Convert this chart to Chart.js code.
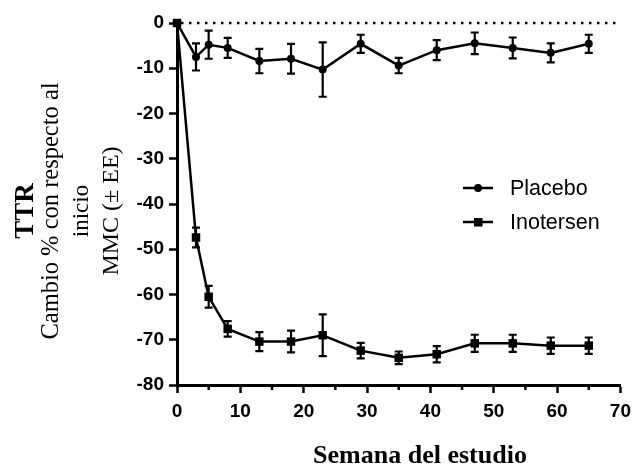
<!DOCTYPE html>
<html lang="es">
<head>
<meta charset="UTF-8">
<title>TTR - Cambio % con respecto al inicio</title>
<script src="https://cdn.jsdelivr.net/npm/chart.js"></script>
<style>
    body {
        margin: 0;
        background: #fff;
    }
    .chart-box {
        position: relative;
        width: 638px;
        height: 466px;
    }
</style>
</head>
<body>
<div class="chart-box">
    <canvas id="ttrChart"></canvas>
</div>
<script>
    // --- Datos ---
    const weeks = [0, 3, 5, 8, 13, 18, 23, 29, 35, 41, 47, 53, 59, 65];
    const placebo = [0, -7.5, -4.8, -5.5, -8.4, -7.9, -10.3, -4.6, -9.4, -6.0, -4.5, -5.5, -6.6, -4.6];
    const placeboSE = [0, 3.0, 3.1, 2.2, 2.7, 3.3, 6.0, 2.0, 1.7, 2.2, 2.4, 2.3, 2.1, 2.0];
    const inotersen = [0, -47.4, -60.5, -67.6, -70.4, -70.4, -69.0, -72.4, -74.0, -73.2, -70.8, -70.8, -71.3, -71.3];
    const inotersenSE = [0, 2.2, 2.4, 1.7, 2.1, 2.4, 4.6, 1.7, 1.4, 1.8, 1.9, 1.9, 1.8, 1.8];
    const seriesNames = ['Placebo', 'Inotersen'];
    const xTickLabels = ['0', '10', '20', '30', '40', '50', '60', '70'];
    const yTickLabels = ['0', '-10', '-20', '-30', '-40', '-50', '-60', '-70', '-80'];
    const xMinorTicks = [5, 15, 25, 35, 45, 55, 65];

    const SANS = '"Liberation Sans", Arial, sans-serif';
    const SERIF = '"Liberation Serif", "Times New Roman", serif';

    // línea punteada en 0
    const zeroLine = {
        id: 'zeroLine',
        beforeDatasetsDraw(chart) {
            const { ctx, scales: { x, y } } = chart;
            const py = y.getPixelForValue(0);
            ctx.save();
            ctx.strokeStyle = '#000';
            ctx.lineWidth = 2.5;
            ctx.setLineDash([2.5, 5.5]);
            ctx.beginPath();
            ctx.moveTo(x.getPixelForValue(0) + 4, py);
            ctx.lineTo(x.getPixelForValue(70), py);
            ctx.stroke();
            ctx.restore();
        }
    };

    // barras de error (± EE)
    const errorBars = {
        id: 'errorBars',
        afterDatasetsDraw(chart) {
            const { ctx, scales: { x, y } } = chart;
            ctx.save();
            ctx.strokeStyle = '#000';
            ctx.lineWidth = 2.2;
            [[placebo, placeboSE], [inotersen, inotersenSE]].forEach(([vals, se]) => {
                weeks.forEach((w, i) => {
                    if (!se[i]) return;
                    const px = x.getPixelForValue(w);
                    const top = y.getPixelForValue(vals[i] + se[i]);
                    const bot = y.getPixelForValue(vals[i] - se[i]);
                    ctx.beginPath();
                    ctx.moveTo(px, top); ctx.lineTo(px, bot);
                    ctx.moveTo(px - 4, top); ctx.lineTo(px + 4, top);
                    ctx.moveTo(px - 4, bot); ctx.lineTo(px + 4, bot);
                    ctx.stroke();
                });
            });
            ctx.restore();
        }
    };

    // marcas menores del eje x, leyenda y títulos de ejes
    const extras = {
        id: 'extras',
        afterDraw(chart) {
            const { ctx, chartArea, scales: { x } } = chart;
            ctx.save();
            ctx.strokeStyle = '#000';
            ctx.fillStyle = '#000';
            ctx.lineWidth = 2.5;
            xMinorTicks.forEach(v => {
                const px = x.getPixelForValue(v);
                ctx.beginPath();
                ctx.moveTo(px, chartArea.bottom);
                ctx.lineTo(px, chartArea.bottom + 5);
                ctx.stroke();
            });

            // leyenda
            const legendY = [188, 222];
            seriesNames.forEach((name, i) => {
                const ly = legendY[i];
                ctx.lineWidth = 2.5;
                ctx.beginPath();
                ctx.moveTo(463, ly);
                ctx.lineTo(493, ly);
                ctx.stroke();
                if (i === 0) {
                    ctx.beginPath();
                    ctx.arc(478, ly, 4, 0, Math.PI * 2);
                    ctx.fill();
                } else {
                    ctx.fillRect(474, ly - 4, 8.5, 8.5);
                }
                ctx.font = '21.5px ' + SANS;
                ctx.textAlign = 'left';
                ctx.textBaseline = 'middle';
                ctx.fillText(name, 510, ly + 1);
            });

            // título eje x
            ctx.font = 'bold 26px ' + SERIF;
            ctx.textAlign = 'center';
            ctx.textBaseline = 'alphabetic';
            ctx.fillText('Semana del estudio', 420, 463);

            // título eje y (rotado)
            const yLines = [
                ['TTR', 'bold 27px ' + SERIF, 33],
                ['Cambio % con respecto al', '24.5px ' + SERIF, 58],
                ['inicio', '23px ' + SERIF, 88],
                ['MMC (± EE)', '24px ' + SERIF, 117.5]
            ];
            yLines.forEach(([txt, font, bx]) => {
                ctx.save();
                ctx.translate(bx, 211);
                ctx.rotate(-Math.PI / 2);
                ctx.font = font;
                ctx.textAlign = 'center';
                ctx.textBaseline = 'alphabetic';
                ctx.fillText(txt, 0, 0);
                ctx.restore();
            });
            ctx.restore();
        }
    };

    const toPoints = vals => weeks.map((w, i) => ({ x: w, y: vals[i] }));

    new Chart(document.getElementById('ttrChart'), {
        type: 'line',
        data: {
            datasets: [
                {
                    label: seriesNames[0],
                    data: toPoints(placebo),
                    borderColor: '#000',
                    backgroundColor: '#000',
                    borderWidth: 2.5,
                    pointStyle: 'circle',
                    pointRadius: 4,
                    pointBorderWidth: 0,
                    tension: 0,
                    clip: false,
                    order: 1
                },
                {
                    label: seriesNames[1],
                    data: toPoints(inotersen),
                    borderColor: '#000',
                    backgroundColor: '#000',
                    borderWidth: 2.5,
                    pointStyle: 'rect',
                    pointRadius: 6,
                    pointBorderWidth: 0,
                    tension: 0,
                    clip: false,
                    order: 0
                }
            ]
        },
        options: {
            responsive: true,
            maintainAspectRatio: false,
            animation: false,
            layout: { padding: { left: 0, right: 11, top: 23, bottom: 0 } },
            plugins: {
                legend: { display: false },
                tooltip: { enabled: false }
            },
            scales: {
                x: {
                    type: 'linear',
                    min: 0,
                    max: 70,
                    ticks: {
                        stepSize: 10,
                        color: '#000',
                        padding: 7,
                        maxRotation: 0,
                        autoSkip: false,
                        font: { family: SANS, size: 19, weight: 'bold' },
                        callback: (v) => xTickLabels[v / 10]
                    },
                    grid: { drawOnChartArea: false, drawTicks: true, tickLength: 8, tickWidth: 2.5, tickColor: '#000' },
                    border: { display: true, color: '#000', width: 3 },
                    afterFit(scale) { scale.height = 81; }
                },
                y: {
                    min: -80,
                    max: 0,
                    ticks: {
                        stepSize: 10,
                        color: '#000',
                        padding: 5,
                        font: { family: SANS, size: 19, weight: 'bold' },
                        callback: (v) => yTickLabels[-v / 10]
                    },
                    grid: { drawOnChartArea: false, drawTicks: true, tickLength: 8, tickWidth: 2.5, tickColor: '#000' },
                    border: { display: true, color: '#000', width: 3 },
                    afterFit(scale) { scale.width = 177; }
                }
            }
        },
        plugins: [zeroLine, errorBars, extras]
    });
</script>
</body>
</html>
